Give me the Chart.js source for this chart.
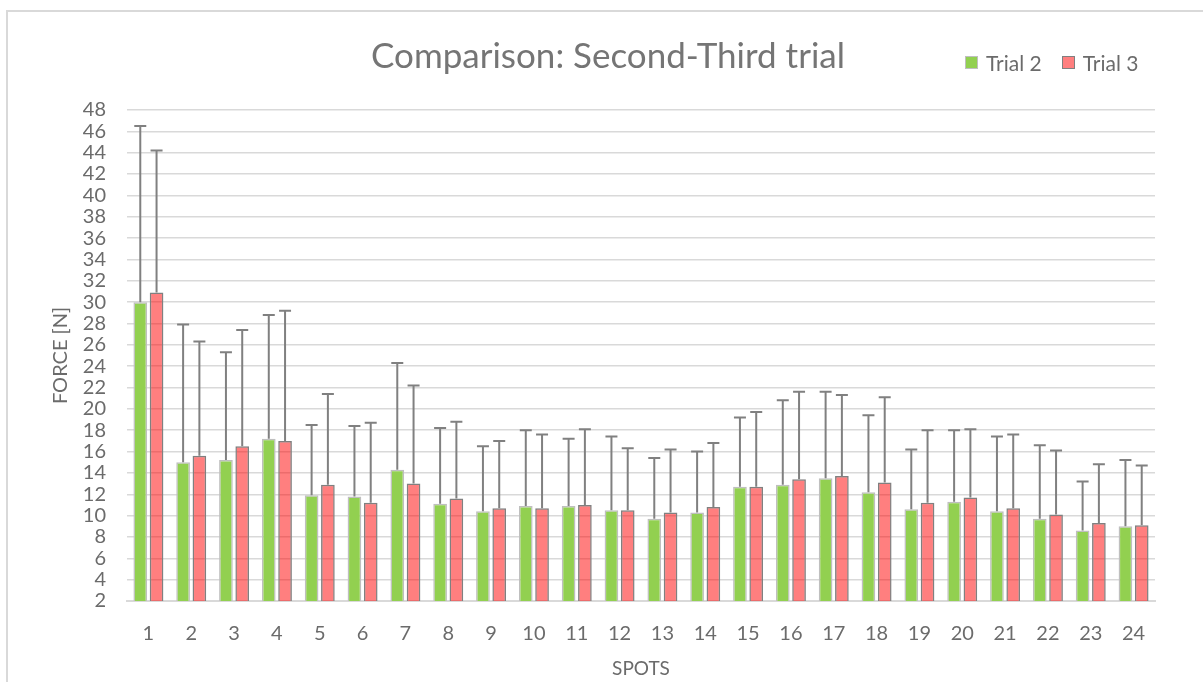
<!DOCTYPE html>
<html>
<head>
<meta charset="utf-8">
<title>Comparison: Second-Third trial</title>
<script src="https://cdn.jsdelivr.net/npm/chart.js@4/dist/chart.umd.min.js"></script>
<style>
  html, body { margin: 0; padding: 0; background: #fff; }
  body { width: 1203px; height: 682px; overflow: hidden; position: relative; font-family: Lato, "Open Sans", sans-serif; }
  .frame { position: absolute; left: 6px; top: 10px; right: -4px; bottom: -4px; border-left: 2px solid #d9d9d9; border-top: 2px solid #d9d9d9; }
  #wrap { position: absolute; left: 0; top: 0; width: 1203px; height: 682px; }
  .title { position: absolute; left: 0; width: 1216px; top: 33px; text-align: center; font-size: 35px; color: #757575; }
  .legend { position: absolute; left: 965px; top: 50px; font-size: 21px; color: #6b6b6b; display: flex; gap: 20px; }
  .legend span { display: flex; align-items: center; }
  .legend i { display: inline-block; width: 11px; height: 11px; margin-right: 8px; border: 1px solid #aaa; }
</style>
</head>
<body>
<div class="frame"></div>
<div id="wrap"><canvas id="chart"></canvas></div>
<div class="title">Comparison: Second-Third trial</div>
<div class="legend" id="legend"></div>
<script>
  // ---------- Data ----------
  const spots = ['1','2','3','4','5','6','7','8','9','10','11','12','13','14','15','16','17','18','19','20','21','22','23','24'];
  const trial2 = [30.0, 15.0, 15.2, 17.2, 11.9, 11.8, 14.3, 11.1, 10.4, 10.9, 10.9, 10.5, 9.7, 10.3, 12.7, 12.9, 13.5, 12.2, 10.6, 11.3, 10.4, 9.7, 8.6, 9.0];
  const trial2Err = [16.5, 12.9, 10.1, 11.6, 6.6, 6.6, 10.0, 7.1, 6.1, 7.1, 6.3, 6.9, 5.7, 5.7, 6.5, 7.9, 8.1, 7.2, 5.6, 6.7, 7.0, 6.9, 4.6, 6.2];
  const trial3 = [30.9, 15.6, 16.5, 17.0, 12.9, 11.2, 13.0, 11.6, 10.7, 10.7, 11.0, 10.5, 10.3, 10.8, 12.7, 13.4, 13.7, 13.1, 11.2, 11.7, 10.7, 10.1, 9.3, 9.1];
  const trial3Err = [13.3, 10.7, 10.9, 12.2, 8.5, 7.5, 9.2, 7.2, 6.3, 6.9, 7.1, 5.8, 5.9, 6.0, 7.0, 8.2, 7.6, 8.0, 6.8, 6.4, 6.9, 6.0, 5.5, 5.6];
  const yMin = 2, yMax = 48, yStep = 2;

  const textGrey = '#6b6b6b';
  const font = 'Lato, "Open Sans", sans-serif';

  // error bars (upper only), drawn through the y scale
  const errorBars = {
    id: 'errorBars',
    afterDatasetsDraw(chart){
      const {ctx, scales:{y}} = chart;
      ctx.save();
      ctx.strokeStyle = '#808080';
      ctx.lineWidth = 2;
      chart.data.datasets.forEach((ds, di) => {
        const meta = chart.getDatasetMeta(di);
        meta.data.forEach((bar, i) => {
          const top = y.getPixelForValue(ds.data[i] + ds.errPlus[i]);
          ctx.beginPath();
          ctx.moveTo(bar.x, bar.y);
          ctx.lineTo(bar.x, top);
          ctx.moveTo(bar.x - 6, top);
          ctx.lineTo(bar.x + 6, top);
          ctx.stroke();
        });
      });
      ctx.restore();
    }
  };

  const datasets = [
    {label:'Trial 2', data:trial2, errPlus:trial2Err, backgroundColor:'#92d050', borderColor:'#bfbfbf', borderWidth:1.5},
    {label:'Trial 3', data:trial3, errPlus:trial3Err, backgroundColor:'rgba(255,0,0,0.5)', borderColor:'#808080', borderWidth:1.5}
  ];

  // html legend from the datasets
  const legendEl = document.getElementById('legend');
  datasets.forEach(d => {
    const s = document.createElement('span');
    const sw = document.createElement('i');
    sw.style.background = d.backgroundColor;
    sw.style.borderColor = d.borderColor;
    s.appendChild(sw);
    s.appendChild(document.createTextNode(d.label));
    legendEl.appendChild(s);
  });

  new Chart(document.getElementById('chart'), {
    type: 'bar',
    data: { labels: spots, datasets },
    options: {
      responsive: true,
      maintainAspectRatio: false,
      animation: false,
      layout: { padding: { left: 6, right: 48, top: 110, bottom: 0 } },
      datasets: { bar: { categoryPercentage: 0.76, barPercentage: 0.84 } },
      plugins: { legend: { display: false }, title: { display: false }, tooltip: { enabled: false } },
      scales: {
        x: {
          grid: { display: false, drawTicks: false },
          border: { color: '#d9d9d9', width: 2 },
          ticks: { color: textGrey, font: { family: font, size: 20 }, padding: 21 },
          title: { display: true, text: 'SPOTS', color: textGrey, font: { family: font, size: 19 }, padding: { top: 0, bottom: 2 } },
          afterFit: s => { s.height = 81; }
        },
        y: {
          min: yMin, max: yMax,
          grid: { color: '#d9d9d9', lineWidth: 1.5, drawTicks: false },
          border: { display: false },
          ticks: { stepSize: yStep, color: textGrey, font: { family: font, size: 20 }, padding: 21, autoSkip: false },
          title: { display: true, text: 'FORCE [N]', color: textGrey, font: { family: font, size: 20 }, padding: { top: 43, bottom: 0 } },
          afterFit: s => { s.width = 121; }
        }
      }
    },
    plugins: [errorBars]
  });
</script>
</body>
</html>
